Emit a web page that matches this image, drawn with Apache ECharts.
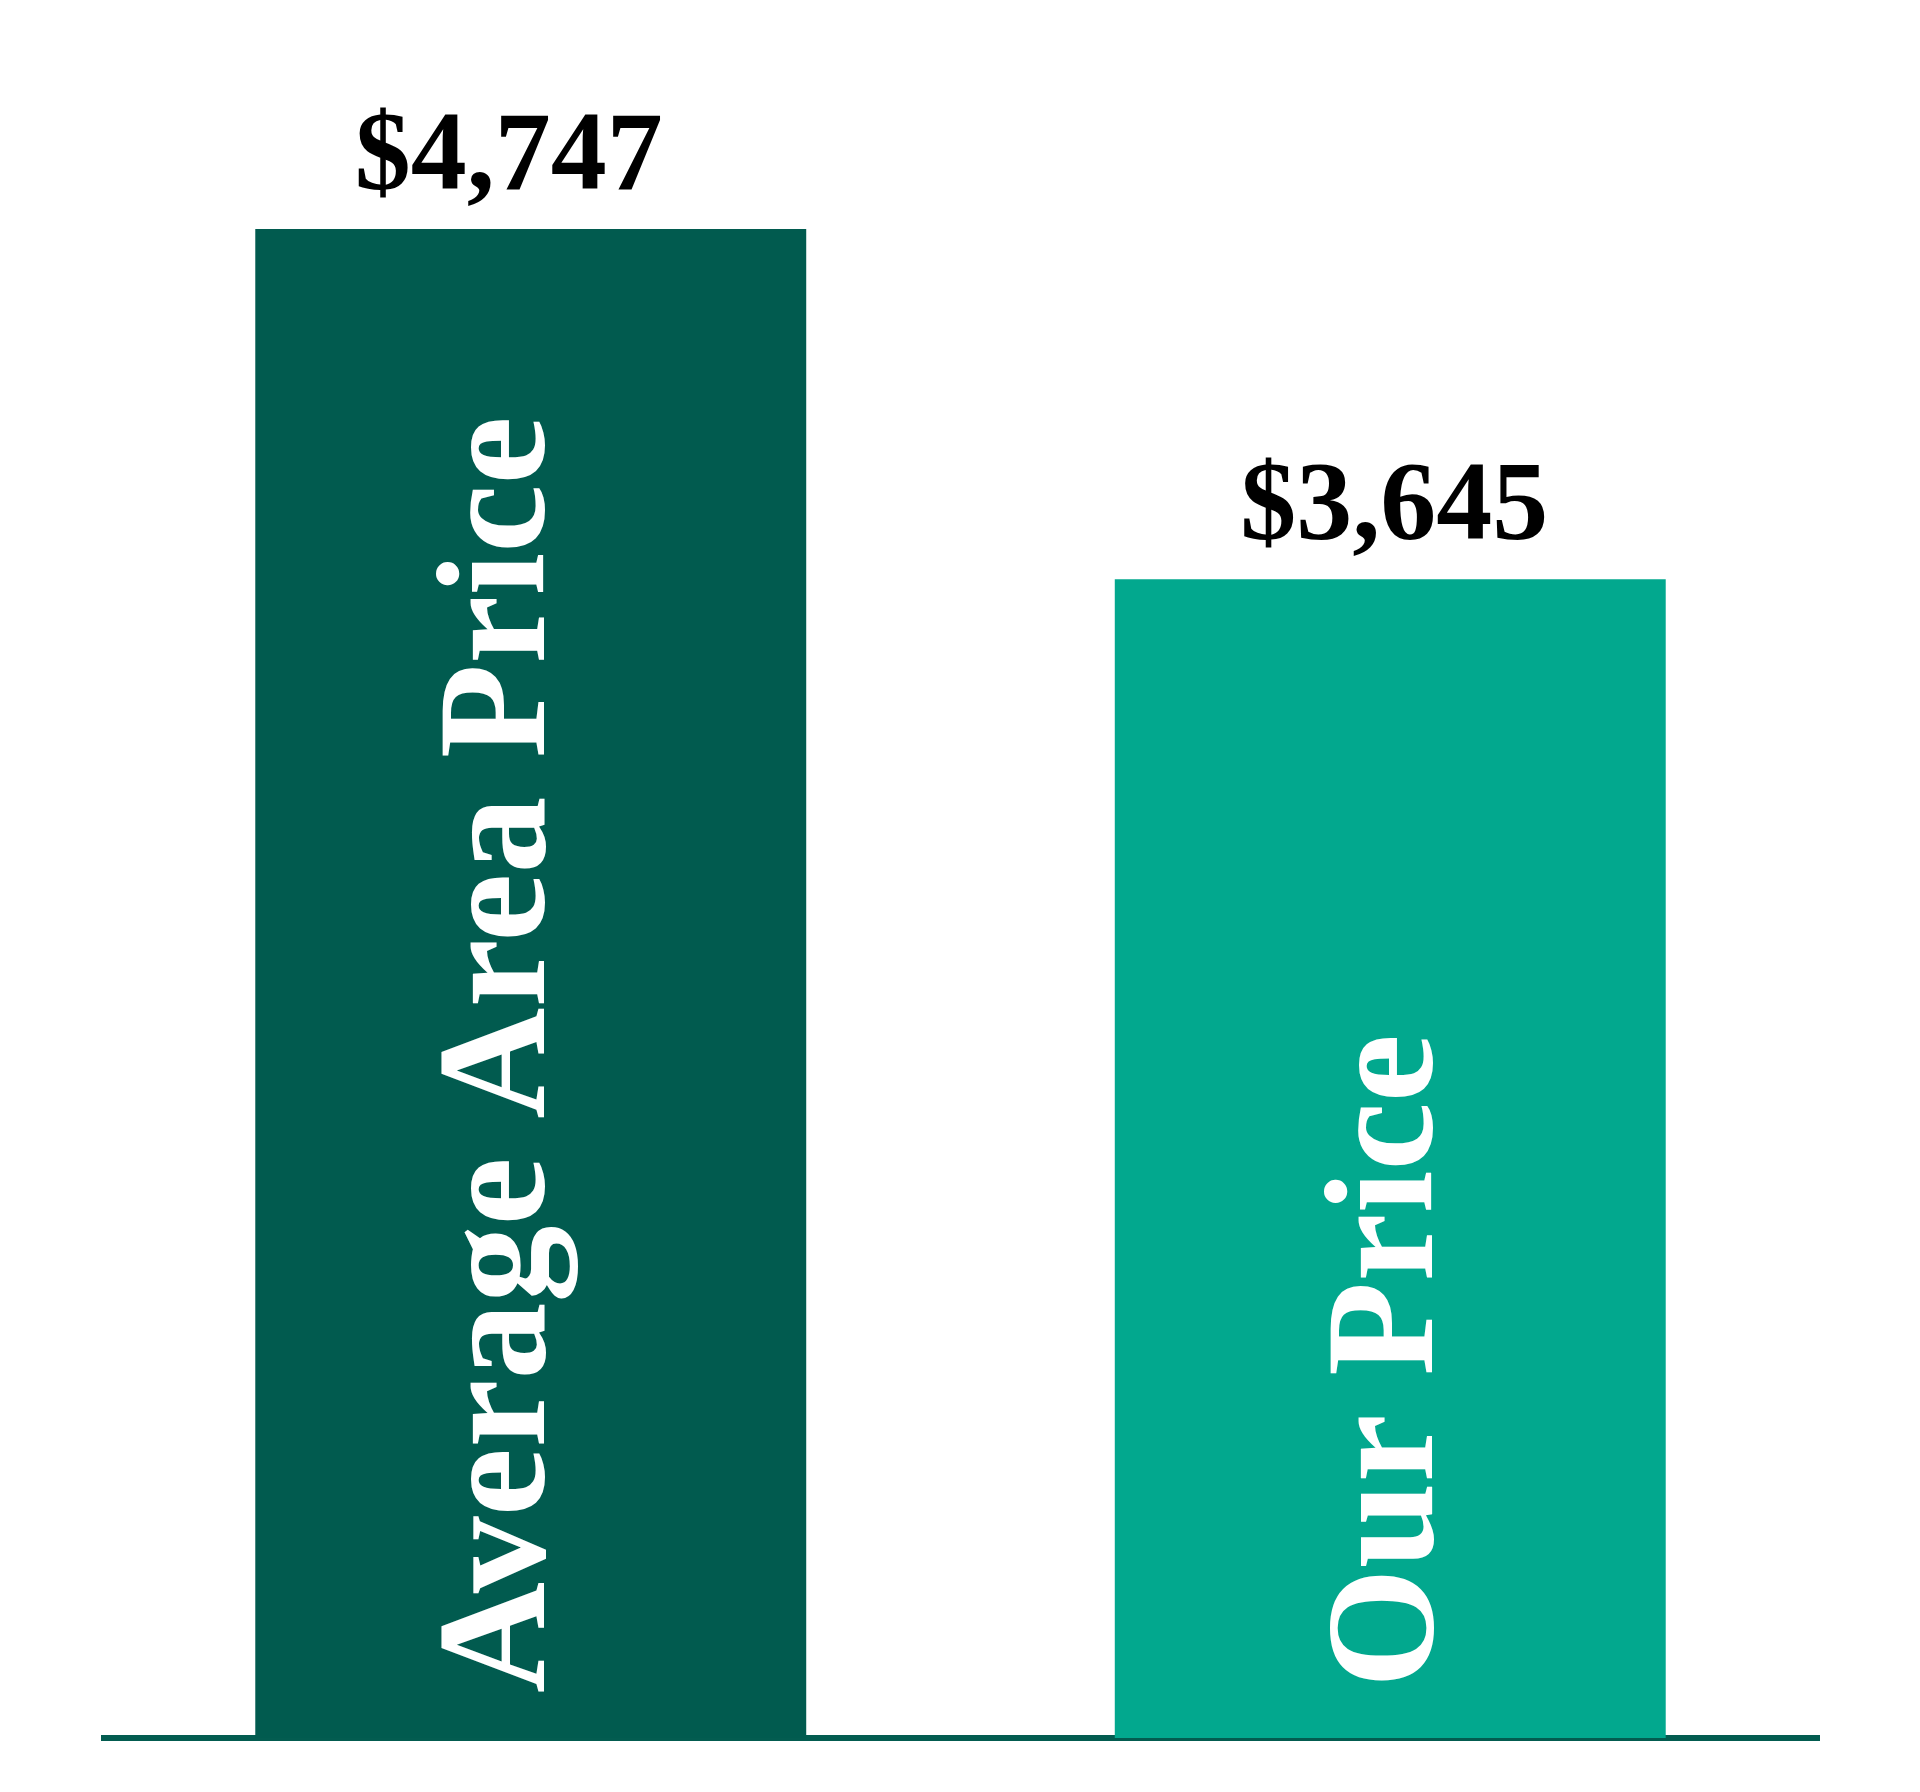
<!DOCTYPE html>
<html lang="en">
<head>
<meta charset="UTF-8">
<title>Price comparison</title>
<script src="https://cdn.jsdelivr.net/npm/echarts@6/dist/echarts.min.js"></script>
<style>html,body{margin:0;background:#fff;}</style>
</head>
<body>
<div id="main" style="width:1920px;height:1792px;"></div>
<script type="text/javascript">
    // chart data
    var categories = ['Average Area Price', 'Our Price'];
    var prices = [4747, 3645];
    var barColors = ['#015b4f', '#02a88e'];

    // small nudges so labels sit like the original
    var topShift = [-22, 4];
    var nameShift = [-27, 2];
    var nameDistance = [45, 50];

    var serif = '"Liberation Serif", "Times New Roman", Times, serif';

    var myChart = echarts.init(document.getElementById('main'));

    var valueData = [];
    var nameData = [];
    for (var i = 0; i < categories.length; i++) {
        valueData.push({
            value: prices[i],
            itemStyle: {color: barColors[i]},
            label: {offset: [topShift[i], 0]}
        });
        nameData.push({
            value: prices[i],
            label: {offset: [0, nameShift[i]], distance: nameDistance[i]}
        });
    }

    var option = {
        animation: false,
        backgroundColor: '#ffffff',
        grid: {left: 101, right: 100, top: 229, bottom: 54},
        xAxis: {
            type: 'category',
            data: categories,
            axisLine: {lineStyle: {color: '#035c50', width: 6, cap: 'butt'}},
            axisTick: {show: false},
            axisLabel: {show: false}
        },
        yAxis: {
            type: 'value',
            min: 0,
            max: 'dataMax',
            show: false
        },
        series: [
            {
                type: 'bar',
                barWidth: '64.1%',
                data: valueData,
                label: {
                    show: true,
                    position: 'top',
                    distance: 13,
                    color: '#000',
                    fontFamily: serif,
                    fontWeight: 'bold',
                    fontSize: 112,
                    formatter: function (p) {
                        return '$' + p.value.toLocaleString('en-US');
                    }
                }
            },
            {
                // transparent copy that carries the category name inside the bar
                type: 'bar',
                barWidth: '64.1%',
                barGap: '-100%',
                data: nameData,
                itemStyle: {color: 'rgba(0,0,0,0)'},
                label: {
                    show: true,
                    position: 'insideBottom',
                    rotate: 90,
                    align: 'left',
                    verticalAlign: 'middle',
                    color: '#fff',
                    fontFamily: serif,
                    fontWeight: 'bold',
                    fontSize: 154,
                    formatter: function (p) {
                        return p.name;
                    }
                }
            }
        ]
    };

    myChart.setOption(option);
</script>
</body>
</html>
